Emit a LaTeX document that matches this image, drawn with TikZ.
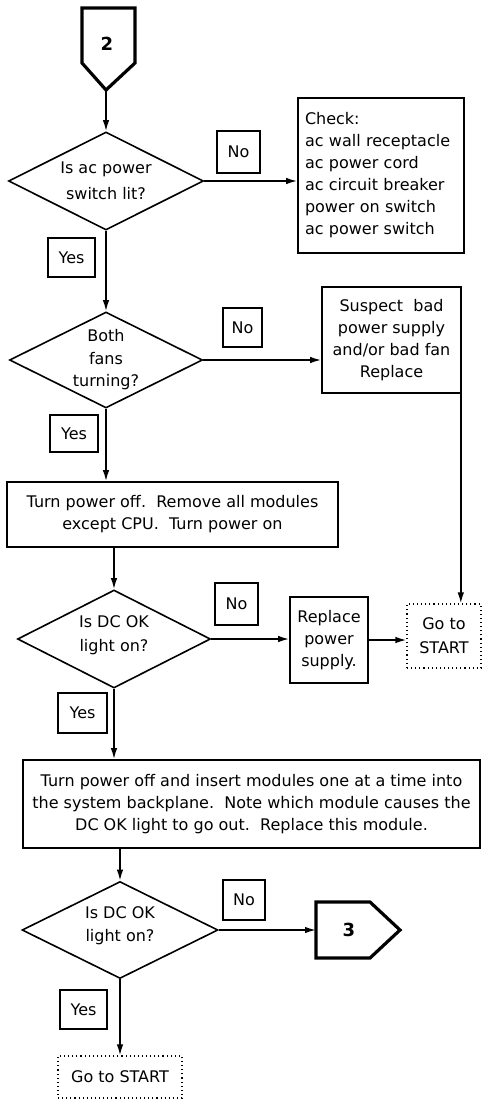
\documentclass[tikz,border=0pt]{standalone}
\usepackage{fontspec}
\setmainfont{DejaVu Sans}
\usetikzlibrary{shapes.geometric,arrows.meta}
\begin{document}
\begin{tikzpicture}[x=1pt,y=-1pt,
  every node/.style={font=\fontsize{16}{22}\selectfont},
  flow/.style={line width=1.6pt,-{Latex[length=11pt,width=6.5pt]}},
  decision/.style={diamond,draw,line width=1.6pt,inner sep=0pt},
  question/.style={align=center,inner sep=0pt},
  stepbox/.style={rectangle,draw,line width=1.6pt,inner sep=0pt,align=center},
  tag/.style={rectangle,draw,line width=1.6pt,inner sep=0pt},
  startbox/.style={rectangle,draw,line width=1.1pt,dash pattern=on 1.1pt off 3pt,inner sep=0pt,align=center},
  offpage/.style={line width=3.2pt,line join=miter},
  numfont/.style={font=\bfseries\fontsize{18}{22}\selectfont}
]
\useasboundingbox (0,0) rectangle (482,1102);

% entry connector 2
\draw[offpage] (82,8) -- (135,8) -- (135,63) -- (106,90) -- (82,63) -- cycle;
\node[numfont] (c2) at (107,44) {2};
\coordinate (c2tip) at (106,90);

% first check: ac power switch
\node[decision,minimum width=195pt,minimum height=98pt] (d1) at (106,181) {};
\node[question,font=\fontsize{16}{26}\selectfont] (q1) at (d1.center) {Is ac power\\switch lit?};
\node[stepbox,minimum width=166pt,minimum height=155pt,text width=152pt,align=left] (check) at (381,175.5)
  {Check:\\ac wall receptacle\\ac power cord\\ac circuit breaker\\power on switch\\ac power switch};
\node[tag,minimum width=43pt,minimum height=42pt] (no1) at (238.5,152) {No};
\node[tag,minimum width=47pt,minimum height=39pt] (yes1) at (71.5,257.5) {Yes};

% fans
\node[decision,minimum width=193pt,minimum height=96pt] (d2) at (106,360) {};
\node[question,font=\fontsize{16}{22.5}\selectfont] (q2) at (d2.center) {Both\\fans\\turning?};
\node[stepbox,minimum width=139pt,minimum height=106pt] (suspect) at (391.5,340)
  {Suspect\ \ bad\\power supply\\and/or bad fan\\Replace};
\node[tag,minimum width=39pt,minimum height=39pt] (no2) at (242.5,327.5) {No};
\node[tag,minimum width=48pt,minimum height=37pt] (yes2) at (74,433.5) {Yes};

% strip to CPU
\node[stepbox,minimum width=331pt,minimum height=65pt] (strip) at (172.5,514.5)
  {Turn power off.\ \ Remove all modules\\except CPU.\ \ Turn power on};

% DC OK, first time
\node[decision,minimum width=193pt,minimum height=98pt] (d3) at (114,639) {};
\node[question,font=\fontsize{16}{24}\selectfont] (q3) at ([yshift=4pt]d3.center) {Is DC OK\\light on?};
\node[stepbox,minimum width=78pt,minimum height=86pt] (psu) at (329,640) {Replace\\power\\supply.};
\node[startbox,minimum width=74pt,minimum height=64pt,font=\fontsize{16}{24}\selectfont] (start1) at (444,636) {Go to\\START};
\node[tag,minimum width=43pt,minimum height=42pt] (no3) at (236.5,604) {No};
\node[tag,minimum width=49pt,minimum height=40pt] (yes3) at (82.5,713) {Yes};

% module by module
\node[stepbox,minimum width=457pt,minimum height=88pt] (insert) at (251.5,804)
  {Turn power off and insert modules one at a time into\\the system backplane.\ \ Note which module causes the\\DC OK light to go out.\ \ Replace this module.};

% DC OK, second time
\node[decision,minimum width=196pt,minimum height=97pt] (d4) at (120,930) {};
\node[question,font=\fontsize{16}{23}\selectfont] (q4) at ([yshift=4pt]d4.center) {Is DC OK\\light on?};
\node[tag,minimum width=42pt,minimum height=40pt] (no4) at (244,900) {No};
\node[tag,minimum width=47pt,minimum height=39pt] (yes4) at (83.5,1009.5) {Yes};
\node[startbox,minimum width=124pt,minimum height=42pt] (start2) at (120,1077) {Go to START};

% exit connector 3
\draw[offpage] (316,902) -- (370,902) -- (400,930) -- (370,958) -- (316,958) -- cycle;
\node[numfont] (c3) at (349,930) {3};
\coordinate (c3in) at (316,930);

% connectors
\draw[flow] (c2tip) -- (d1.north);
\draw[flow] (d1.east) -- (d1.east -| check.west);
\draw[flow] (d1.south) -- (d2.north);
\draw[flow] (d2.east) -- (d2.east -| suspect.west);
\draw[flow] ([xshift=-1pt]suspect.south east) -- ([xshift=-1pt]suspect.south east |- start1.north);
\draw[flow] (d2.south) -- (d2.south |- strip.north);
\draw[flow] (d3.north |- strip.south) -- (d3.north);
\draw[flow] (d3.east) -- (d3.east -| psu.west);
\draw[flow] (psu.east) -- (psu.east -| start1.west);
\draw[flow] (d3.south) -- (d3.south |- insert.north);
\draw[flow] (d4.north |- insert.south) -- (d4.north);
\draw[flow] (d4.east) -- (c3in);
\draw[flow] (d4.south) -- (start2.north);
\end{tikzpicture}
\end{document}
